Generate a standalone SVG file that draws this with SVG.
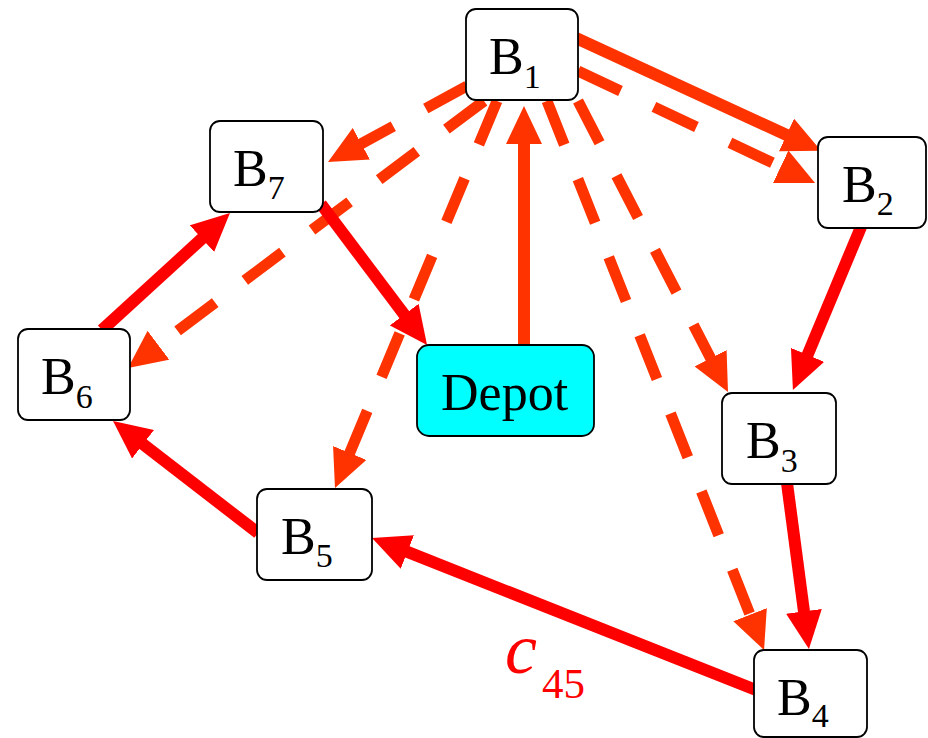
<svg xmlns="http://www.w3.org/2000/svg" width="928" height="738" viewBox="0 0 928 738">
  <style>
    .box { fill: #ffffff; stroke: #000000; stroke-width: 1.8; }
    .depot { fill: #00ffff; stroke: #000000; stroke-width: 1.8; }
    .lbl { font-family: 'Liberation Serif', 'Times New Roman', serif; font-size: 52px; fill: #000000; }
    .sub { font-size: 34px; }
    .route { fill: none; stroke: #ff0000; stroke-width: 12; }
    .route-o { fill: none; stroke: #ff3300; stroke-width: 12; }
    .cand { fill: none; stroke: #ff3300; stroke-width: 11; stroke-dasharray: 47 37; }
    .cost { font-family: 'Liberation Serif', 'Times New Roman', serif; fill: #ff0000; }
  </style>
  <defs>
    <marker id="head-red" markerUnits="userSpaceOnUse" viewBox="0 0 38 36" markerWidth="38" markerHeight="36" refX="2" refY="18" orient="auto">
      <path d="M0,0 L38,18 L0,36 Z" fill="#ff0000"/>
    </marker>
    <marker id="head-orange" markerUnits="userSpaceOnUse" viewBox="0 0 38 36" markerWidth="38" markerHeight="36" refX="2" refY="18" orient="auto">
      <path d="M0,0 L38,18 L0,36 Z" fill="#ff3300"/>
    </marker>
  </defs>

  <!-- connectors -->
  <g id="connectors">
    <!-- candidate links out of B1 -->
    <line class="cand" x1="578" y1="71" x2="782.5" y2="167.6" marker-end="url(#head-orange)"/>
    <line class="cand" x1="467" y1="86" x2="359.6" y2="144.7" marker-end="url(#head-orange)"/>
    <line class="cand" x1="484" y1="101" x2="156.8" y2="346.4" marker-end="url(#head-orange)"/>
    <line class="cand" x1="497" y1="101" x2="348.9" y2="454.8" marker-end="url(#head-orange)"/>
    <line class="cand" x1="578" y1="101" x2="711.5" y2="360" marker-end="url(#head-orange)"/>
    <line class="cand" x1="547" y1="101" x2="750.8" y2="616.5" marker-end="url(#head-orange)"/>
    <!-- route -->
    <line class="route-o" x1="524" y1="346" x2="524" y2="142" marker-end="url(#head-orange)"/>
    <line class="route-o" x1="576" y1="38" x2="788.3" y2="135.8" marker-end="url(#head-orange)"/>
    <line class="route" x1="861" y1="227" x2="806.8" y2="356.7" marker-end="url(#head-red)"/>
    <line class="route" x1="787" y1="483" x2="804.2" y2="613.3" marker-end="url(#head-red)"/>
    <line class="route" x1="756" y1="690" x2="405.5" y2="551.2" marker-end="url(#head-red)"/>
    <line class="route" x1="258" y1="533" x2="141.5" y2="443" marker-end="url(#head-red)"/>
    <line class="route" x1="102" y1="330" x2="203.4" y2="237.3" marker-end="url(#head-red)"/>
    <line class="route" x1="321" y1="204" x2="405.4" y2="316.2" marker-end="url(#head-red)"/>
  </g>

  <!-- nodes -->
  <g id="B1">
    <rect class="box" x="466" y="9" width="112" height="91" rx="10"/>
    <text class="lbl" x="489" y="74">B<tspan class="sub" dy="14">1</tspan></text>
  </g>
  <g id="B2">
    <rect class="box" x="818" y="137" width="108" height="91" rx="10"/>
    <text class="lbl" x="842" y="202">B<tspan class="sub" dy="13">2</tspan></text>
  </g>
  <g id="B3">
    <rect class="box" x="722" y="393" width="114" height="91" rx="10"/>
    <text class="lbl" x="746" y="458">B<tspan class="sub" dy="14">3</tspan></text>
  </g>
  <g id="B4">
    <rect class="box" x="754" y="650" width="113" height="87" rx="10"/>
    <text class="lbl" x="777" y="715">B<tspan class="sub" dy="12">4</tspan></text>
  </g>
  <g id="B5">
    <rect class="box" x="257" y="489" width="115" height="91" rx="10"/>
    <text class="lbl" x="281" y="554">B<tspan class="sub" dy="13">5</tspan></text>
  </g>
  <g id="B6">
    <rect class="box" x="18" y="329" width="112" height="91" rx="10"/>
    <text class="lbl" x="41" y="394">B<tspan class="sub" dy="14">6</tspan></text>
  </g>
  <g id="B7">
    <rect class="box" x="210" y="121" width="113" height="91" rx="10"/>
    <text class="lbl" x="233" y="186">B<tspan class="sub" dy="13">7</tspan></text>
  </g>
  <g id="Depot">
    <rect class="depot" x="417" y="345" width="177" height="91" rx="12"/>
    <text class="lbl" x="441" y="410">Depot</text>
  </g>

  <!-- cost label on the B4 to B5 link -->
  <g id="cost-label">
    <text class="cost" x="505" y="673" font-size="72" font-style="italic">c</text>
    <text class="cost" x="542" y="698" font-size="43">45</text>
  </g>
</svg>
